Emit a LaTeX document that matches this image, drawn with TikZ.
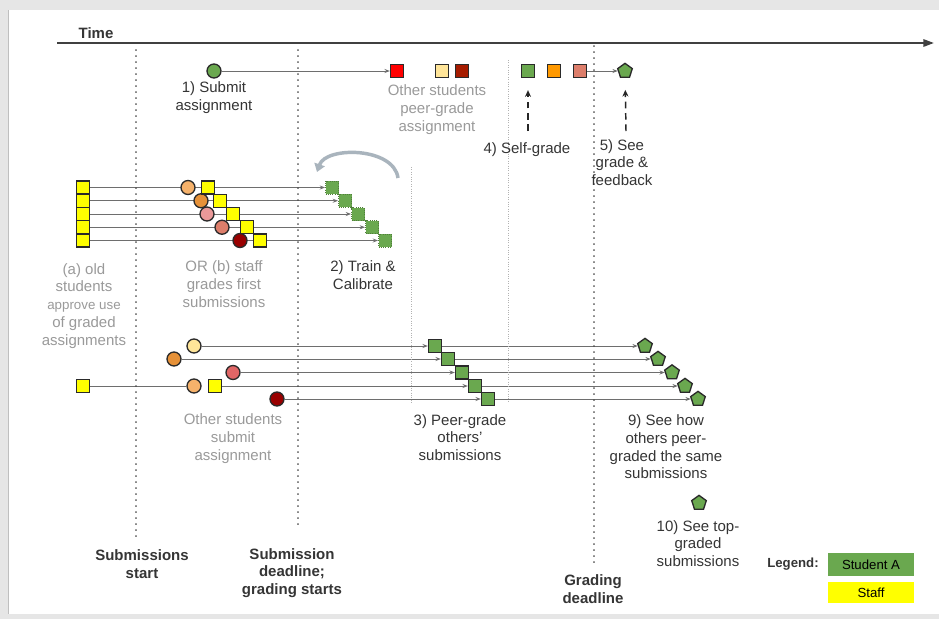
\documentclass[tikz,border=0pt]{standalone}
\usepackage{fontspec}
\setmainfont{Liberation Sans}
\usetikzlibrary{arrows.meta,shapes.geometric}
\definecolor{sgreen}{HTML}{6AA84F}
\definecolor{syellow}{HTML}{FFFF00}
\definecolor{sred}{HTML}{FF0000}
\definecolor{lyellow}{HTML}{FFE599}
\definecolor{dred}{HTML}{A61C00}
\definecolor{dred2}{HTML}{990000}
\definecolor{sorange}{HTML}{FF9900}
\definecolor{salmon}{HTML}{DD7E6B}
\definecolor{orangec}{HTML}{E69138}
\definecolor{lorange}{HTML}{F6B26B}
\definecolor{lpink}{HTML}{EA9999}
\definecolor{pinkred}{HTML}{E06666}
\definecolor{darktxt}{HTML}{353535}
\definecolor{graytxt}{HTML}{9A9A9A}
\definecolor{outl}{HTML}{2A2A2A}
\definecolor{linec}{HTML}{6E6E6E}
\definecolor{bggray}{HTML}{E6E6E6}
\definecolor{arcfill}{HTML}{A9B4BD}
\newcommand\fsz{\fontsize{11.25}{13.3}\selectfont}
\newcommand\fsm{\fontsize{9.9}{12}\selectfont}
\newcommand\fsn{\fontsize{10}{13.3}\selectfont}
\pgfdeclarelayer{bglayer}
\pgfdeclarelayer{linelayer}
\pgfsetlayers{bglayer,linelayer,main}
\begin{document}
\begin{tikzpicture}[x=0.75pt,y=-0.75pt,
  sq/.style={draw=outl,line width=1pt,minimum size=9.75pt,inner sep=0pt,fill=#1},
  sqd/.style={draw=sgreen!75!black,densely dotted,line width=0.7pt,minimum size=9.75pt,inner sep=0pt,fill=sgreen},
  dot/.style={circle,draw=outl,line width=1pt,minimum size=10.5pt,inner sep=0pt,fill=#1},
  pent/.style={regular polygon,regular polygon sides=5,draw=outl,line width=1pt,minimum size=11.5pt,inner sep=0pt,fill=sgreen},
  txt/.style={align=center,inner sep=0pt,font=\fsz,text=darktxt},
  gtxt/.style={align=center,inner sep=0pt,font=\fsz,text=graytxt},
  btxt/.style={align=center,inner sep=0pt,font=\fsz\bfseries,text=darktxt},
  conn/.style={draw=linec,line width=0.6pt},
  arr/.style={conn,-{Stealth[length=4pt,width=3pt]}},
  vdot/.style={draw=black!70,line width=1.2pt,dash pattern=on 0.1pt off 4.4pt,line cap=round},
  vfaint/.style={draw=black!30,line width=0.5pt,dash pattern=on 0.6pt off 1.2pt},
  dasharr/.style={draw=black!85,line width=1.1pt,dash pattern=on 5pt off 3.5pt,-{Stealth[length=5pt,width=4.5pt]}},
  legbox/.style={minimum width=64.5pt,inner sep=0pt,font=\fsm,text=black}
]
% background panel
\begin{pgfonlayer}{bglayer}
\fill[bggray] (0,0) rectangle (939,619);
\fill[white] (8,10) rectangle (939,614);
\draw[black!25,line width=0.5pt] (8,10) -- (8,614);
\end{pgfonlayer}
\useasboundingbox (0,0) rectangle (939,619);

% time axis
\coordinate (ts) at (57,43);
\coordinate (te) at (934,43);
\draw[draw=black!75,line width=1.5pt,-{Triangle[length=8pt,width=5.5pt]}] (ts) -- (te);
\node[btxt] (time) at (96,33) {Time};

% vertical dotted lines
\draw[vdot] (136,50) -- (136,540);
\draw[vdot] (298,50) -- (298,525);
\draw[vdot] (594,46) -- (594,565);
\draw[vfaint] (411,167) -- (411,403);
\draw[vfaint] (508,60) -- (508,403);

% ---------- top row ----------
\node[dot=sgreen] (c1) at (214,71) {};
\node[sq=sred] (r1) at (397,71) {};
\node[sq=lyellow] (ly1) at (442,71) {};
\node[sq=dred] (dr1) at (462,71) {};
\node[sq=sgreen] (g1) at (528,71) {};
\node[sq=sorange] (o1) at (554,71) {};
\node[sq=salmon] (s1) at (580,71) {};
\node[pent] (p1) at (625,71) {};
\begin{pgfonlayer}{linelayer}
\draw[arr] (c1) -- (r1);
\draw[arr] (s1) -- (p1);
\end{pgfonlayer}
\node[txt] (t1) at (214,97.5) {1) Submit\\assignment};
\node[gtxt] (t2) at (437,109.5) {Other students\\peer-grade\\assignment};
\node[txt] (t4) at (527,150) {4) Self-grade};
\node[txt] (t5) at (622,162.5) {5) See\\grade \&\\feedback};
\coordinate (d4) at (528,131);
\coordinate (d5) at (626,131);
\draw[dasharr,shorten >=9pt] (d4) -- (g1);
\draw[dasharr,shorten >=9pt] (d5) -- (p1);

% ---------- train & calibrate ----------
\foreach \i/\y in {1/187.5,2/200.75,3/214,4/227.25,5/240.5}{
  \node[sq=syellow] (ya\i) at (83,\y) {};
}
\node[dot=lorange] (tc1) at (188,187.5) {};
\node[dot=orangec] (tc2) at (201,200.75) {};
\node[dot=lpink] (tc3) at (207,214) {};
\node[dot=salmon] (tc4) at (222,227.25) {};
\node[dot=dred2] (tc5) at (240,240.5) {};
\node[sq=syellow] (yb1) at (208,187.5) {};
\node[sq=syellow] (yb2) at (220,200.75) {};
\node[sq=syellow] (yb3) at (233,214) {};
\node[sq=syellow] (yb4) at (247,227.25) {};
\node[sq=syellow] (yb5) at (260,240.5) {};
\node[sqd] (gt1) at (332,187.5) {};
\node[sqd] (gt2) at (345,200.75) {};
\node[sqd] (gt3) at (358,214) {};
\node[sqd] (gt4) at (372,227.25) {};
\node[sqd] (gt5) at (385,240.5) {};
\begin{pgfonlayer}{linelayer}
\foreach \i in {1,...,5}{ \draw[arr] (ya\i) -- (gt\i); }
\end{pgfonlayer}
\coordinate (ca) at (398,178);
\coordinate (cb) at (317,172);
\draw[arcfill,line width=2.6pt,-{Triangle[length=6pt,width=8pt]}] (ca) .. controls (394,147) and (326,146) .. (cb);
\node[gtxt] (ta) at (84,305.8) {(a) old\\students\\{\fsn approve use}\\of graded\\assignments};
\node[gtxt] (tb) at (224,284) {OR (b) staff\\grades first\\submissions};
\node[txt] (t3) at (363,275) {2) Train \&\\Calibrate};

% ---------- peer grade ----------
\node[dot=lyellow] (pc1) at (194,346) {};
\node[dot=orangec] (pc2) at (174,359) {};
\node[dot=pinkred] (pc3) at (233,372.5) {};
\node[sq=syellow] (py4) at (83,386) {};
\node[dot=lorange] (pc4) at (194,386) {};
\node[sq=syellow] (pz4) at (215,386) {};
\node[dot=dred2] (pc5) at (277,399) {};
\node[sq=sgreen] (pg1) at (435,346) {};
\node[sq=sgreen] (pg2) at (448,359) {};
\node[sq=sgreen] (pg3) at (462,372.5) {};
\node[sq=sgreen] (pg4) at (475,386) {};
\node[sq=sgreen] (pg5) at (488,399) {};
\node[pent] (pp1) at (645,346) {};
\node[pent] (pp2) at (658,359) {};
\node[pent] (pp3) at (672,372.5) {};
\node[pent] (pp4) at (685,386) {};
\node[pent] (pp5) at (698,399) {};
\begin{pgfonlayer}{linelayer}
\draw[arr] (pc1) -- (pg1);
\draw[arr] (pc2) -- (pg2);
\draw[arr] (pc3) -- (pg3);
\draw[conn] (py4) -- (pc4);
\draw[arr] (pz4) -- (pg4);
\draw[arr] (pc5) -- (pg5);
\foreach \i in {1,...,5}{ \draw[arr] (pg\i) -- (pp\i); }
\end{pgfonlayer}
\node[gtxt] (to) at (233,438.5) {Other students\\submit\\assignment};
\node[txt] (t3b) at (460,437.5) {3) Peer-grade\\others'\\submissions};
\node[txt] (t9) at (666,447) {9) See how\\others peer-\\graded the same\\submissions};
\node[pent] (p10) at (699,503) {};
\node[txt] (t10) at (698,543.5) {10) See top-\\graded\\submissions};

% ---------- bottom labels ----------
\node[btxt] (lss) at (142,564) {Submissions\\start};
\node[btxt] (lsd) at (292,573) {Submission\\deadline;\\grading starts};
\node[btxt] (lgd) at (593,589) {Grading\\deadline};
\node[btxt,font=\fsm\bfseries] (leg) at (793,564) {Legend:};
\node[legbox,fill=sgreen,minimum height=17.25pt] (lga) at (871,564.5) {Student A};
\node[legbox,fill=syellow,minimum height=15.75pt] (lgs) at (871,592.5) {Staff};
\end{tikzpicture}
\end{document}
